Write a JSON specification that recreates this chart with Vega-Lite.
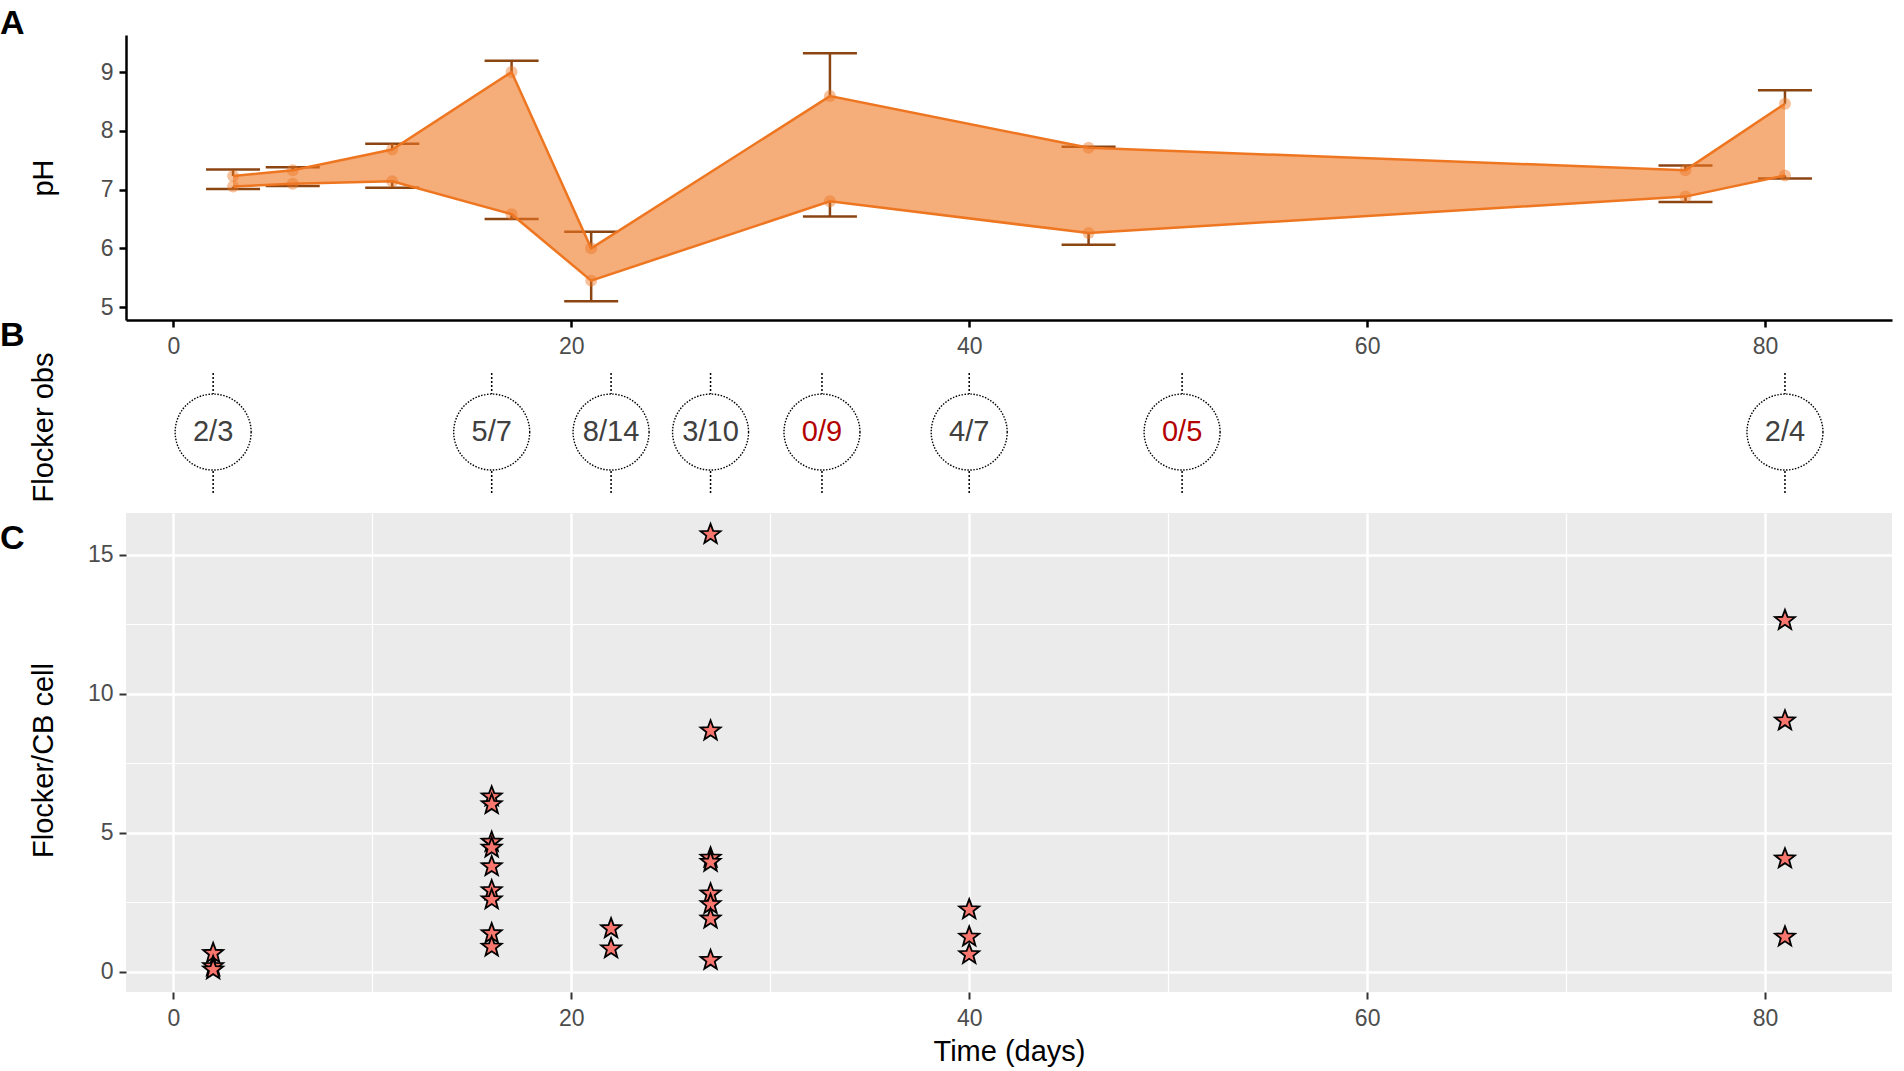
{
  "$schema": "https://vega.github.io/schema/vega-lite/v6.json",
  "background": "white",
  "padding": {"left": 0, "top": 6, "right": 12, "bottom": 4},
  "spacing": 10,
  "bounds": "flush",
  "datasets": {
    "ph": [
      {"day": 3, "hi": 7.23, "lo": 7.05, "hi_se": 7.34, "lo_se": 7.01},
      {"day": 6, "hi": 7.33, "lo": 7.10, "hi_se": 7.38, "lo_se": 7.06},
      {"day": 11, "hi": 7.68, "lo": 7.14, "hi_se": 7.78, "lo_se": 7.03},
      {"day": 17, "hi": 9.00, "lo": 6.58, "hi_se": 9.19, "lo_se": 6.50},
      {"day": 21, "hi": 6.00, "lo": 5.45, "hi_se": 6.28, "lo_se": 5.10},
      {"day": 33, "hi": 8.59, "lo": 6.80, "hi_se": 9.32, "lo_se": 6.54},
      {"day": 46, "hi": 7.71, "lo": 6.26, "hi_se": 7.73, "lo_se": 6.06},
      {"day": 76, "hi": 7.33, "lo": 6.88, "hi_se": 7.41, "lo_se": 6.79},
      {"day": 81, "hi": 8.46, "lo": 7.24, "hi_se": 8.69, "lo_se": 7.19}
    ],
    "obs": [
      {"day": 2, "pos": 2, "obs": "2/3"},
      {"day": 16, "pos": 5, "obs": "5/7"},
      {"day": 22, "pos": 8, "obs": "8/14"},
      {"day": 27, "pos": 3, "obs": "3/10"},
      {"day": 32.6, "pos": 0, "obs": "0/9"},
      {"day": 40, "pos": 4, "obs": "4/7"},
      {"day": 50.7, "pos": 0, "obs": "0/5"},
      {"day": 81, "pos": 2, "obs": "2/4"}
    ],
    "cells": [
      {"day": 2, "ratio": 0.67}, {"day": 2, "ratio": 0.2}, {"day": 2, "ratio": 0.08},
      {"day": 16, "ratio": 6.30}, {"day": 16, "ratio": 6.02}, {"day": 16, "ratio": 4.67},
      {"day": 16, "ratio": 4.46}, {"day": 16, "ratio": 3.79}, {"day": 16, "ratio": 2.93},
      {"day": 16, "ratio": 2.60}, {"day": 16, "ratio": 1.38}, {"day": 16, "ratio": 0.90},
      {"day": 22, "ratio": 1.56}, {"day": 22, "ratio": 0.84},
      {"day": 27, "ratio": 15.73}, {"day": 27, "ratio": 8.67}, {"day": 27, "ratio": 4.10},
      {"day": 27, "ratio": 3.95}, {"day": 27, "ratio": 2.81}, {"day": 27, "ratio": 2.43},
      {"day": 27, "ratio": 1.91}, {"day": 27, "ratio": 0.42},
      {"day": 40, "ratio": 2.24}, {"day": 40, "ratio": 1.26}, {"day": 40, "ratio": 0.63},
      {"day": 81, "ratio": 12.64}, {"day": 81, "ratio": 9.03}, {"day": 81, "ratio": 4.07},
      {"day": 81, "ratio": 1.26}
    ]
  },
  "config": {
    "font": "Liberation Sans",
    "view": {"stroke": null},
    "title": {"font": "Liberation Sans", "fontSize": 34, "fontWeight": "bold", "color": "black",
              "anchor": "start", "frame": "group", "offset": 0},
    "axis": {"labelFont": "Liberation Sans", "titleFont": "Liberation Sans",
             "labelFontSize": 23, "titleFontSize": 29, "labelColor": "#4D4D4D",
             "titleColor": "black", "titleFontWeight": "normal", "grid": false,
             "labelFlush": false, "tickSize": 7}
  },
  "vconcat": [
    {
      "width": 1766,
      "height": 285,
      "title": {"text": "A", "dx": -126, "offset": -5.5},
      "data": {"name": "ph"},
      "encoding": {
        "x": {"field": "day", "type": "quantitative",
              "scale": {"domain": [-2.38, 86.38], "nice": false, "zero": false},
              "axis": {"title": null, "values": [0, 20, 40, 60, 80], "domainColor": "black",
                       "domainWidth": 2.5, "tickColor": "black", "tickWidth": 2.5, "labelPadding": 8}}
      },
      "layer": [
        {
          "mark": {"type": "rule", "color": "#8B4513", "strokeWidth": 2.5},
          "encoding": {
            "y": {"field": "hi", "type": "quantitative",
                  "scale": {"domain": [4.78, 9.63], "nice": false, "zero": false},
                  "axis": {"title": "pH", "values": [5, 6, 7, 8, 9], "format": "d", "domainColor": "black",
                           "domainWidth": 2.5, "tickColor": "black", "tickWidth": 2.5,
                           "labelPadding": 6, "titleX": -83, "titleY": 142.5, "titleBaseline": "middle"}},
            "y2": {"field": "hi_se"}
          }
        },
        {
          "mark": {"type": "rule", "color": "#8B4513", "strokeWidth": 2.5},
          "encoding": {"y": {"field": "lo", "type": "quantitative"}, "y2": {"field": "lo_se"}}
        },
        {
          "mark": {"type": "tick", "orient": "horizontal", "color": "#8B4513", "thickness": 2.5, "size": 54, "opacity": 1},
          "encoding": {"y": {"field": "hi_se", "type": "quantitative"}}
        },
        {
          "mark": {"type": "tick", "orient": "horizontal", "color": "#8B4513", "thickness": 2.5, "size": 54, "opacity": 1},
          "encoding": {"y": {"field": "lo_se", "type": "quantitative"}}
        },
        {
          "mark": {"type": "area", "color": "#EE7621", "opacity": 0.6},
          "encoding": {"y": {"field": "hi", "type": "quantitative"}, "y2": {"field": "lo"}}
        },
        {
          "mark": {"type": "line", "color": "#EE7621", "strokeWidth": 2.5},
          "encoding": {"y": {"field": "hi", "type": "quantitative"}}
        },
        {
          "mark": {"type": "line", "color": "#EE7621", "strokeWidth": 2.5},
          "encoding": {"y": {"field": "lo", "type": "quantitative"}}
        },
        {
          "mark": {"type": "point", "filled": true, "color": "#EE7621", "opacity": 0.45, "size": 144},
          "encoding": {"y": {"field": "hi", "type": "quantitative"}}
        },
        {
          "mark": {"type": "point", "filled": true, "color": "#EE7621", "opacity": 0.45, "size": 144},
          "encoding": {"y": {"field": "lo", "type": "quantitative"}}
        }
      ]
    },
    {
      "width": 1766,
      "height": 173,
      "title": {"text": "B", "dx": -126, "dy": 27},
      "data": {"name": "obs"},
      "encoding": {
        "x": {"field": "day", "type": "quantitative",
              "scale": {"domain": [-2.38, 86.38], "nice": false, "zero": false}, "axis": null}
      },
      "layer": [
        {
          "mark": {"type": "rule", "color": "black", "strokeWidth": 1.5, "strokeDash": [2, 2]},
          "encoding": {
            "y": {"datum": 0.624, "type": "quantitative",
                  "scale": {"domain": [0, 1], "nice": false, "zero": false},
                  "axis": {"title": "Flocker obs", "labels": false, "ticks": false, "domain": false,
                           "grid": false, "titleX": -83, "titleY": 97, "titleBaseline": "middle"}},
            "y2": {"datum": 0.751}
          }
        },
        {
          "mark": {"type": "rule", "color": "black", "strokeWidth": 1.5, "strokeDash": [2, 2]},
          "encoding": {"y": {"datum": 0.058, "type": "quantitative"}, "y2": {"datum": 0.191}}
        },
        {
          "mark": {"type": "point", "shape": "circle", "size": 5776, "fill": "white", "fillOpacity": 1,
                   "stroke": "black", "strokeWidth": 1.4, "strokeDash": [1.5, 1.5], "opacity": 1},
          "encoding": {"y": {"datum": 0.41, "type": "quantitative"}}
        },
        {
          "mark": {"type": "text", "font": "Liberation Sans", "fontSize": 29, "baseline": "middle", "align": "center"},
          "encoding": {
            "y": {"datum": 0.41, "type": "quantitative"},
            "text": {"field": "obs"},
            "color": {"condition": {"test": "datum.pos === 0", "value": "#B30000"}, "value": "#404040"}
          }
        }
      ]
    },
    {
      "width": 1766,
      "height": 479,
      "view": {"fill": "#EBEBEB", "stroke": null},
      "title": {"text": "C", "dx": -126, "dy": 47},
      "data": {"name": "cells"},
      "mark": {"type": "point",
               "shape": "M0,-1L0.247,-0.34L0.951,-0.309L0.399,0.13L0.588,0.809L0,0.42L-0.588,0.809L-0.399,0.13L-0.951,-0.309L-0.247,-0.34Z",
               "size": 441, "fill": "#F8766D", "fillOpacity": 1, "stroke": "black", "strokeWidth": 1.8, "opacity": 1},
      "encoding": {
        "x": {"field": "day", "type": "quantitative",
              "scale": {"domain": [-2.38, 86.38], "nice": false, "zero": false},
              "axis": {"title": "Time (days)", "titlePadding": 7, "values": [0, 10, 20, 30, 40, 50, 60, 70, 80],
                       "labelExpr": "datum.value % 20 === 0 ? datum.label : ''",
                       "grid": true, "gridColor": "white",
                       "gridWidth": {"condition": {"test": "datum.value % 20 !== 0", "value": 1.2}, "value": 2.5},
                       "tickOpacity": {"condition": {"test": "datum.value % 20 !== 0", "value": 0}, "value": 1},
                       "domain": false, "tickColor": "#333333", "tickWidth": 2, "labelPadding": 8}},
        "y": {"field": "ratio", "type": "quantitative",
              "scale": {"domain": [-0.72, 16.5], "nice": false, "zero": false},
              "axis": {"title": "Flocker/CB cell", "values": [0, 2.5, 5, 7.5, 10, 12.5, 15],
                       "labelExpr": "datum.value % 5 === 0 ? datum.label : ''",
                       "grid": true, "gridColor": "white",
                       "gridWidth": {"condition": {"test": "datum.value % 5 !== 0", "value": 1.2}, "value": 2.5},
                       "tickOpacity": {"condition": {"test": "datum.value % 5 !== 0", "value": 0}, "value": 1},
                       "domain": false, "tickColor": "#333333", "tickWidth": 2, "labelPadding": 6,
                       "titleX": -83, "titleY": 247, "titleBaseline": "middle"}}
      }
    }
  ]
}
